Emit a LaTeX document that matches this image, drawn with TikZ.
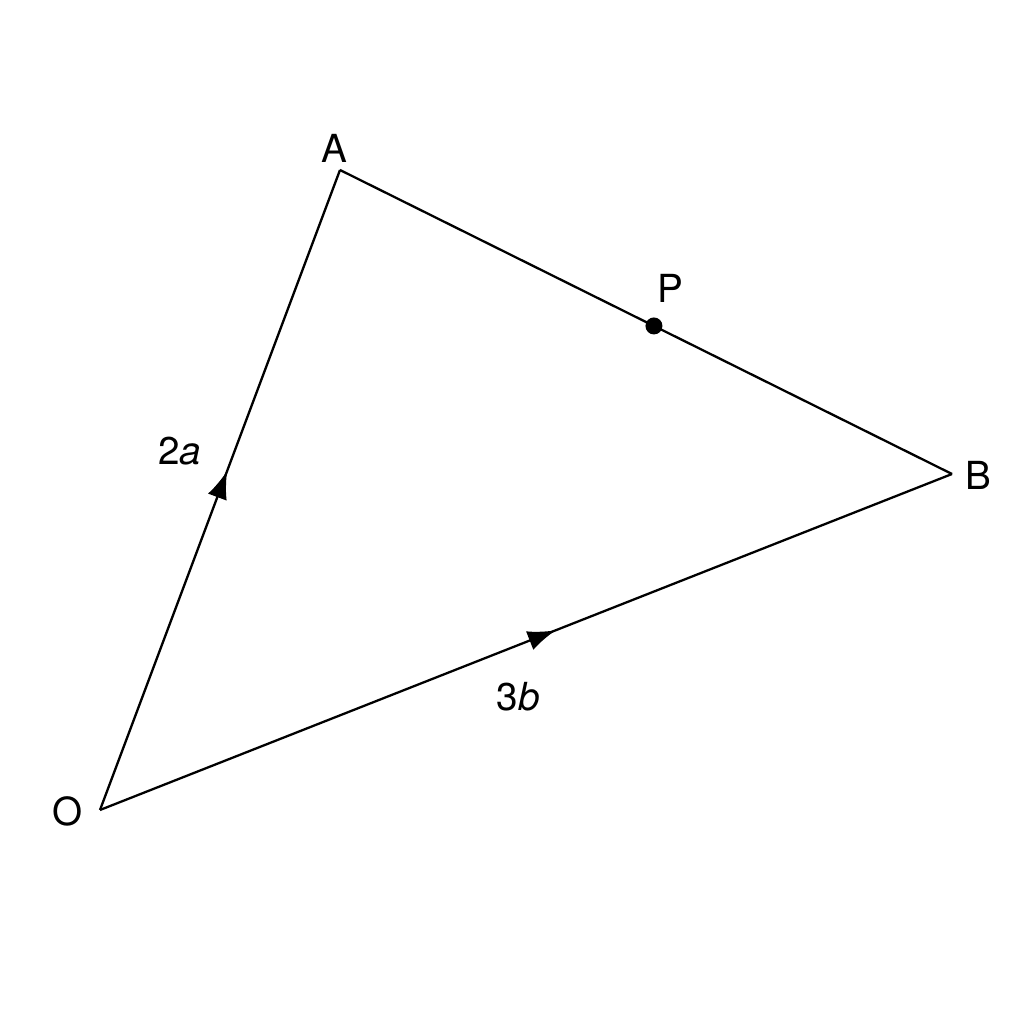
\documentclass[tikz,border=0pt]{standalone}
\usepackage{fontspec}
\setmainfont{TeX Gyre Heros}
\usetikzlibrary{arrows.meta,decorations.markings,calc}

\begin{document}
\begin{tikzpicture}[
    line width=0.65pt,
    midarrow/.style={postaction={decorate},
      decoration={markings,mark=at position #1 with {\arrow{Latex[length=2.8mm,width=2mm]}}}},
    lbl/.style={font=\fontsize{11}{13}\selectfont,inner sep=0pt}
    ]
    \useasboundingbox (0,0) rectangle (10.24,10.24);
    \coordinate (O) at (1.00,2.14);
    \coordinate (A) at (3.40,8.54);
    \coordinate (B) at (9.52,5.50);
    \draw[midarrow=0.53] (O) -- (A);
    \draw (A) -- (B);
    \draw[midarrow=0.535] (O) -- (B);
    \coordinate (P) at ($(A)!0.513!(B)$);
    \fill (P) circle (0.085);
    \node[lbl] (lblA) at (3.34,8.76) {A};
    \node[lbl] (lblB) at (9.78,5.49) {B};
    \node[lbl] (lblO) at (0.68,2.13) {O};
    \node[lbl] (lblP) at (6.70,7.36) {P};
    \node[lbl] (lbla) at (1.80,5.73) {2\textit{a}};
    \node[lbl] (lblb) at (5.18,3.27) {3\textit{b}};
\end{tikzpicture}
\end{document}
